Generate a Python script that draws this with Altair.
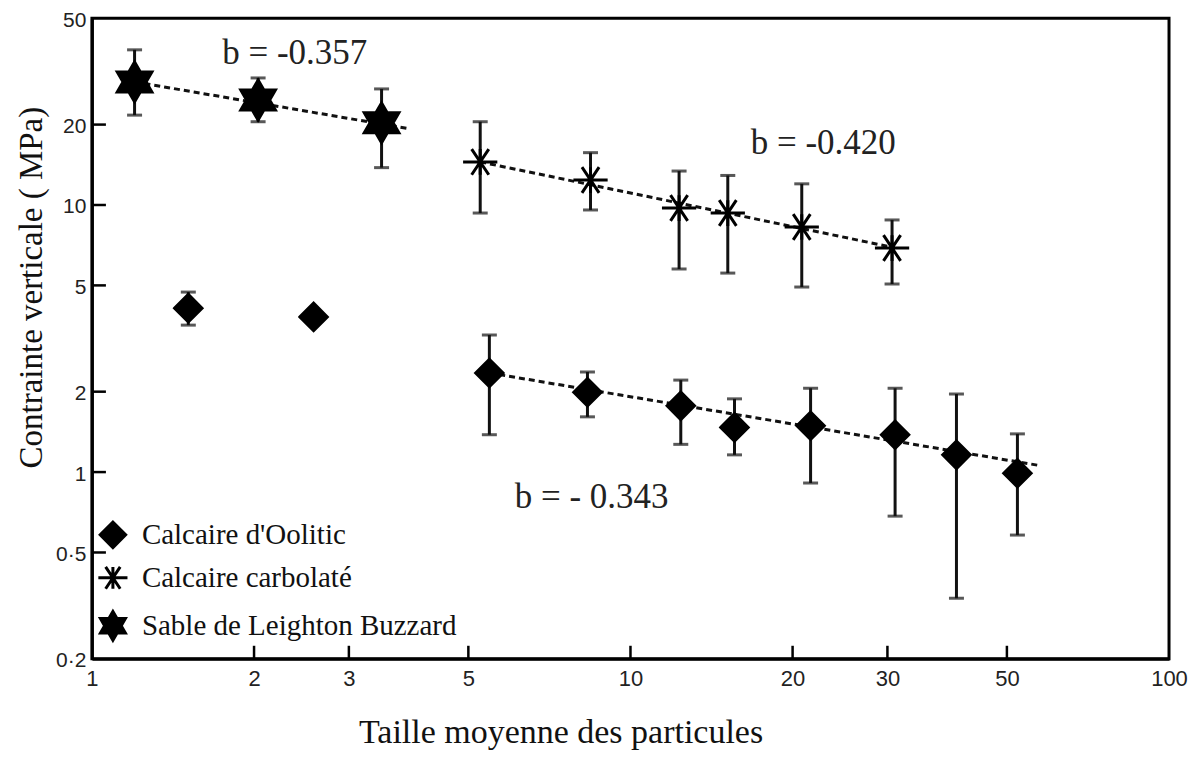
import altair as alt
import pandas as pd

# ---------------- data ----------------
series_names = ["Calcaire d'Oolitic", "Calcaire carbolaté", "Sable de Leighton Buzzard"]

oolitic_x = [1.51, 2.58, 5.47, 8.32, 12.4, 15.6, 21.6, 31.0, 40.3, 52.3]
oolitic_y = [4.11, 3.81, 2.35, 1.99, 1.77, 1.47, 1.49, 1.38, 1.16, 0.99]
oolitic_hi = [4.72, None, 3.26, 2.37, 2.21, 1.88, 2.06, 2.06, 1.96, 1.39]
oolitic_lo = [3.55, None, 1.38, 1.61, 1.27, 1.16, 0.91, 0.684, 0.337, 0.581]

carbo_x = [5.26, 8.43, 12.31, 15.16, 20.8, 30.6]
carbo_y = [14.5, 12.4, 9.74, 9.33, 8.27, 6.90]
carbo_hi = [20.5, 15.7, 13.4, 12.9, 12.0, 8.79]
carbo_lo = [9.33, 9.58, 5.76, 5.56, 4.93, 5.06]

sable_x = [1.20, 2.035, 3.45]
sable_y = [28.9, 24.7, 20.3]
sable_hi = [38.1, 29.9, 27.2]
sable_lo = [21.7, 20.5, 13.8]

# fitted power-law lines (end points)
fit_x = {"Calcaire d'Oolitic": [5.47, 57.2],
         "Calcaire carbolaté": [5.26, 30.6],
         "Sable de Leighton Buzzard": [1.20, 3.88]}
fit_y = {"Calcaire d'Oolitic": [2.35, 1.06],
         "Calcaire carbolaté": [14.5, 6.95],
         "Sable de Leighton Buzzard": [28.9, 19.3]}

ann_text = ["b = -0.357", "b = -0.420", "b = - 0.343"]
ann_x = [2.38, 22.8, 8.47]
ann_y = [37.1, 17.1, 0.806]

x_ticks = [1, 2, 3, 5, 10, 20, 30, 50, 100]
y_ticks = [0.2, 0.5, 1, 2, 5, 10, 20, 50]
x_inner_ticks = [2, 3, 5, 10, 20, 30, 50]
y_inner_ticks = [0.5, 1, 2, 5, 10, 20]

# ---------------- tables ----------------
pts_rows, err_rows, cap_rows, line_rows = [], [], [], []
for name, xs, ys, his, los in [
    (series_names[0], oolitic_x, oolitic_y, oolitic_hi, oolitic_lo),
    (series_names[1], carbo_x, carbo_y, carbo_hi, carbo_lo),
    (series_names[2], sable_x, sable_y, sable_hi, sable_lo),
]:
    for x, y, hi, lo in zip(xs, ys, his, los):
        pts_rows.append({"series": name, "x": x, "y": y})
        if hi is not None and lo is not None:
            err_rows.append({"x": x, "lo": lo, "hi": hi})
            cap_rows.append({"x": x, "y": lo})
            cap_rows.append({"x": x, "y": hi})
for name in series_names:
    for i, (x, y) in enumerate(zip(fit_x[name], fit_y[name])):
        line_rows.append({"series": name, "x": x, "y": y, "o": i})

pts = pd.DataFrame(pts_rows)
errs = pd.DataFrame(err_rows)
caps = pd.DataFrame(cap_rows)
lines = pd.DataFrame(line_rows)
ann = pd.DataFrame({"text": ann_text, "x": ann_x, "y": ann_y})
xt = pd.DataFrame({"v": x_inner_ticks})
yt = pd.DataFrame({"v": y_inner_ticks})

W, H = 1078, 641

xscale = alt.Scale(type="log", domain=[1, 100], nice=False)
yscale = alt.Scale(type="log", domain=[0.2, 50], nice=False)

xaxis = alt.Axis(
    values=x_ticks, grid=False, ticks=False, domainColor="black", domainWidth=3,
    labelFont="Liberation Sans", labelFontSize=22, labelColor="#222",
    labelPadding=10, labelFlush=False, labelOverlap=False, format="~g",
    title="Taille moyenne des particules", titleFont="Liberation Serif",
    titleFontSize=34, titleFontWeight="normal", titleColor="#111",
    titleX=469, titleY=84, titleAlign="center", titleBaseline="alphabetic",
)
yaxis = alt.Axis(
    values=y_ticks, grid=False, ticks=False, domainColor="black", domainWidth=3,
    labelFont="Liberation Sans", labelFontSize=21, labelColor="#222",
    labelPadding=6, labelFlush=False, labelOverlap=False, labelOffset=2,
    labelExpr="datum.value == 0.5 ? '0·5' : (datum.value == 0.2 ? '0·2' : format(datum.value, '~g'))",
    title="Contrainte verticale ( MPa)", titleFont="Liberation Serif",
    titleFontSize=33, titleFontWeight="normal", titleColor="#111",
    titleAngle=270, titleX=-50, titleY=269, titleAlign="center", titleBaseline="alphabetic",
)


def X(f):
    return alt.X(f"{f}:Q", scale=xscale, axis=xaxis)


def Y(f):
    return alt.Y(f"{f}:Q", scale=yscale, axis=yaxis)


asterisk = "M-1,0L1,0M0,-0.75L0,0.75M-0.5,-0.75L0.5,0.75M-0.5,0.75L0.5,-0.75"
star6 = "M0,-1L0.866,0.5L-0.866,0.5Z M0,1L-0.866,-0.5L0.866,-0.5Z"
shapes = ["diamond", asterisk, star6]
plot_sizes = [750, 1600, 820]
legend_sizes = [650, 850, 830]

fit_layer = alt.Chart(lines).mark_line(
    color="#111", strokeWidth=3, strokeDash=[6, 4]
).encode(x=X("x"), y=Y("y"), detail="series:N", order="o:Q")

err_layer = alt.Chart(errs).mark_rule(color="#111", strokeWidth=3).encode(
    x=X("x"), y=Y("lo"), y2="hi:Q"
)
cap_layer = alt.Chart(caps).mark_tick(
    orient="horizontal", size=15, thickness=3, color="#111"
).encode(x=X("x"), y=Y("y"))

pt_layer = alt.Chart(pts).mark_point(
    filled=True, color="black", stroke="black", strokeWidth=3, opacity=1
).encode(
    x=X("x"), y=Y("y"),
    shape=alt.Shape("series:N", scale=alt.Scale(domain=series_names, range=shapes), legend=None),
    size=alt.Size("series:N", scale=alt.Scale(domain=series_names, range=plot_sizes), legend=None),
)

ann_layer = alt.Chart(ann).mark_text(
    font="Liberation Serif", fontSize=35, color="#222", align="center", baseline="middle"
).encode(x=X("x"), y=Y("y"), text="text:N")

xtick_layer = alt.Chart(xt).mark_rule(color="black", strokeWidth=2.5).encode(
    x=X("v"), y=alt.value(H - 13), y2=alt.value(H)
)
ytick_layer = alt.Chart(yt).mark_rule(color="black", strokeWidth=2.5).encode(
    y=Y("v"), x=alt.value(0), x2=alt.value(14)
)

# ---------------- legend (drawn inside the plot, lower left) ----------------
legend_rows_y = [517, 560, 608]
legend_layers = []
for name, shp, sz, ly in zip(series_names, shapes, legend_sizes, legend_rows_y):
    one = pd.DataFrame({"label": [name]})
    legend_layers.append(
        alt.Chart(one).mark_point(
            filled=True, color="black", stroke="black", strokeWidth=3, opacity=1,
            shape=shp, size=sz,
        ).encode(x=alt.value(21), y=alt.value(ly))
    )
    legend_layers.append(
        alt.Chart(one).mark_text(
            font="Liberation Serif", fontSize=29, color="#111", align="left", baseline="middle"
        ).encode(x=alt.value(50), y=alt.value(ly), text="label:N")
    )

chart = alt.layer(
    xtick_layer, ytick_layer, fit_layer, err_layer, cap_layer, pt_layer, ann_layer,
    *legend_layers,
).properties(
    width=W, height=H,
    autosize=alt.AutoSizeParams(type="none"),
    padding={"left": 84, "top": 10, "right": 20, "bottom": 92},
    background="white",
).configure_view(stroke="black", strokeWidth=3)

chart.save("out.html", embed_options={"renderer": "svg", "actions": False})
